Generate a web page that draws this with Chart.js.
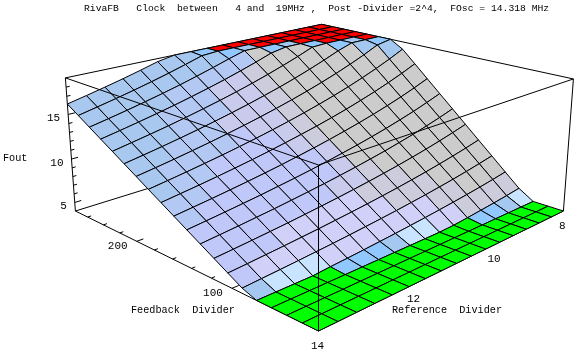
<!DOCTYPE html>
<html>
<head>
<meta charset="utf-8">
<title>RivaFB Clock</title>
<script src="https://cdn.jsdelivr.net/npm/chart.js@4"></script>
<style>
    html, body { margin: 0; padding: 0; background: #fff; }
    canvas { display: block; }
</style>
</head>
<body>
<canvas id="surfaceChart" width="577" height="353"></canvas>
<script>
//////////////////////* Chart Data *////////////////////////////
let titleText = "RivaFB   Clock  between   4 and  19MHz ,  Post -Divider =2^4,  FOsc = 14.318 MHz";

let referenceDividers = [14, 13.625, 13.25, 12.875, 12.5, 12.125, 11.75, 11.375, 11, 10.625, 10.25, 9.875, 9.5, 9.125, 8.75, 8.375, 8];

let feedbackDividers = [24, 37.3, 50.5, 63.8, 77.1, 90.3, 103.6, 116.8, 130.1, 143.4, 156.6, 169.9, 183.2, 196.4, 209.7, 222.9, 236.2, 249.5, 262.7, 276];

// Fout, one row per reference divider
let foutValues = [
    [4, 4, 4, 4, 4, 4.53, 5.36, 6.19, 7.02, 7.85, 8.68, 9.51, 10.34, 11.17, 12, 12.83, 13.66, 14.49, 15.32, 16.15],
    [4, 4, 4, 4, 4, 4.66, 5.51, 6.36, 7.22, 8.07, 8.92, 9.78, 10.63, 11.48, 12.33, 13.19, 14.04, 14.89, 15.75, 16.6],
    [4, 4, 4, 4, 4, 4.79, 5.67, 6.54, 7.42, 8.3, 9.17, 10.05, 10.93, 11.8, 12.68, 13.56, 14.44, 15.31, 16.19, 17.07],
    [4, 4, 4, 4, 4, 4.93, 5.83, 6.73, 7.64, 8.54, 9.44, 10.34, 11.25, 12.15, 13.05, 13.95, 14.86, 15.76, 16.66, 17.56],
    [4, 4, 4, 4, 4.15, 5.08, 6.01, 6.93, 7.86, 8.79, 9.72, 10.65, 11.58, 12.51, 13.44, 14.37, 15.3, 16.23, 17.16, 18.09],
    [4, 4, 4, 4, 4.27, 5.23, 6.19, 7.15, 8.11, 9.07, 10.02, 10.98, 11.94, 12.9, 13.86, 14.82, 15.78, 16.73, 17.69, 18.65],
    [4, 4, 4, 4, 4.41, 5.4, 6.39, 7.38, 8.37, 9.35, 10.34, 11.33, 12.32, 13.31, 14.3, 15.29, 16.28, 17.27, 18.26, 19],
    [4, 4, 4, 4, 4.56, 5.58, 6.6, 7.62, 8.64, 9.66, 10.69, 11.71, 12.73, 13.75, 14.77, 15.79, 16.81, 17.84, 18.86, 19],
    [4, 4, 4, 4, 4.71, 5.77, 6.82, 7.88, 8.94, 9.99, 11.05, 12.11, 13.16, 14.22, 15.28, 16.33, 17.39, 18.44, 19, 19],
    [4, 4, 4, 4, 4.88, 5.97, 7.06, 8.16, 9.25, 10.35, 11.44, 12.53, 13.63, 14.72, 15.81, 16.91, 18, 19, 19, 19],
    [4, 4, 4, 4, 5.06, 6.19, 7.32, 8.46, 9.59, 10.72, 11.86, 12.99, 14.13, 15.26, 16.39, 17.53, 18.66, 19, 19, 19],
    [4, 4, 4, 4.07, 5.25, 6.42, 7.6, 8.78, 9.95, 11.13, 12.31, 13.48, 14.66, 15.84, 17.02, 18.19, 19, 19, 19, 19],
    [4, 4, 4, 4.23, 5.46, 6.68, 7.9, 9.13, 10.35, 11.57, 12.79, 14.02, 15.24, 16.46, 17.69, 18.91, 19, 19, 19, 19],
    [4, 4, 4, 4.41, 5.68, 6.95, 8.23, 9.5, 10.77, 12.05, 13.32, 14.59, 15.87, 17.14, 18.41, 19, 19, 19, 19, 19],
    [4, 4, 4, 4.59, 5.92, 7.25, 8.58, 9.91, 11.24, 12.56, 13.89, 15.22, 16.55, 17.87, 19, 19, 19, 19, 19, 19],
    [4, 4, 4, 4.8, 6.19, 7.58, 8.96, 10.35, 11.74, 13.13, 14.51, 15.9, 17.29, 18.68, 19, 19, 19, 19, 19, 19],
    [4, 4, 4, 5.03, 6.48, 7.93, 9.38, 10.83, 12.29, 13.74, 15.19, 16.65, 18.1, 19, 19, 19, 19, 19, 19, 19],
];

// One letter per surface cell, looked up in shadeColors
let cellShades = [
    "GGGGlppppccaaaaaaaa",
    "GGGGwvppppcccaaaaaa",
    "GGGGwvpppppcccaaaaa",
    "GGGGwvvpppppccccaaa",
    "GGGbvvvpppppcccccaa",
    "GGGbvvvppppppqcccaa",
    "GGGbvvvpppppqqqqcal",
    "GGGlvvvqppqqqqqqclb",
    "GGGwvvsqqqsssssscbR",
    "GGGwvsssggggggggglR",
    "GGGvvssgggggggggbRR",
    "GGGvssgggggggggglRR",
    "GGbssggggggggggbRRR",
    "GGbsggggggggggbRRRR",
    "GGlsgggggggggllRRRR",
    "GGwsgggggggglbRRRRR",
];

let shadeColors = {
    R: "#ff0000",
    G: "#00ff00",
    a: "#a8c8f0",
    b: "#90c8ff",
    c: "#b4c8f4",
    g: "#cccccc",
    l: "#a4c8f0",
    p: "#c0c8fa",
    q: "#c8cbec",
    s: "#ccccdc",
    v: "#d0d0f8",
    w: "#c8e4ff",
};

let foutTicks = [5, 10, 15];
let foutMinorTicks = [5, 6, 7, 8, 9, 10, 11, 12, 13, 14, 15, 16, 17, 18];
let feedbackTicks = [100, 200];
let feedbackMinorTicks = [40, 60, 80, 100, 120, 140, 160, 180, 200, 220, 240, 260];
let referenceTicks = [8, 10, 12, 14];

//////////////////////* Projection *////////////////////////////
// Perspective of the box, fitted to its corners in the picture
function project(reference, feedback, fout) {
    let u = (14 - reference) / 6;
    let v = (feedback - 24) / 252;
    let w = (fout - 4) / 15;
    let depth = 1 + 0.29 * u + 0.28 * v - 0.0506 * w;
    return {
        x: (318.5 + 408.3 * u - 222 * v - 16.116 * w) / depth,
        y: (331 - 58.8 * u - 60.9 * v - 174.35 * w) / depth,
    };
}

function lineDataset(points, width) {
    return {
        data: points,
        showLine: true,
        fill: false,
        borderColor: "#000",
        borderWidth: width || 1,
        pointRadius: 0,
        clip: false,
    };
}

function boxLine(a, b) {
    return lineDataset([project(a[0], a[1], a[2]), project(b[0], b[1], b[2])]);
}

function cellDataset(i, j) {
    let shade = cellShades[i][j];
    return {
        data: [
            project(referenceDividers[i], feedbackDividers[j], foutValues[i][j]),
            project(referenceDividers[i + 1], feedbackDividers[j], foutValues[i + 1][j]),
            project(referenceDividers[i + 1], feedbackDividers[j + 1], foutValues[i + 1][j + 1]),
            project(referenceDividers[i], feedbackDividers[j + 1], foutValues[i][j + 1]),
            project(referenceDividers[i], feedbackDividers[j], foutValues[i][j]),
        ],
        showLine: true,
        fill: "shape",
        backgroundColor: shadeColors[shade],
        borderColor: "#000",
        borderWidth: 1,
        pointRadius: 0,
        clip: false,
    };
}

//////////////////////* Datasets, first one ends up on top *////////////////////////////
function buildDatasets() {
    let sets = [];

    // box edges running in front of the surface
    sets.push(boxLine([14, 276, 19], [14, 24, 19]));
    sets.push(boxLine([8, 24, 19], [14, 24, 19]));
    sets.push(boxLine([14, 24, 4], [14, 24, 19]));

    // near cells first so the far ones are painted under them
    for (let i = 0; i < cellShades.length; i++) {
        for (let j = 0; j < cellShades[i].length; j++) {
            sets.push(cellDataset(i, j));
        }
    }

    // edges and ticks behind or beside the surface
    sets.push(boxLine([14, 24, 4], [14, 276, 4]));
    sets.push(boxLine([14, 24, 4], [8, 24, 4]));
    sets.push(boxLine([14, 276, 4], [14, 276, 19]));
    sets.push(boxLine([8, 24, 4], [8, 24, 19]));
    sets.push(boxLine([14, 276, 19], [8, 276, 19]));
    sets.push(boxLine([8, 24, 19], [8, 276, 19]));
    sets.push(boxLine([14, 276, 4], [8, 276, 4]));

    foutMinorTicks.forEach(function (value) {
        let size = foutTicks.indexOf(value) >= 0 ? 0.13 : 0.07;
        sets.push(boxLine([14, 276, value], [14 - size, 276, value]));
    });
    feedbackMinorTicks.forEach(function (value) {
        let size = feedbackTicks.indexOf(value) >= 0 ? 0.13 : 0.07;
        sets.push(boxLine([14, value, 4], [14 - size, value, 4]));
    });

    return sets;
}

//////////////////////* Text *////////////////////////////
let textPlugin = {
    id: "surfaceText",
    afterDraw: function (chart) {
        let ctx = chart.ctx;
        let xScale = chart.scales.x;
        let yScale = chart.scales.y;
        let put = function (text, point, dx, dy) {
            ctx.fillText(text, xScale.getPixelForValue(point.x) + dx, yScale.getPixelForValue(point.y) + dy);
        };
        ctx.save();
        ctx.fillStyle = "#000";
        ctx.textBaseline = "middle";

        ctx.font = "9.7px 'Liberation Mono'";
        ctx.textAlign = "left";
        ctx.fillText(titleText, 84, 8);

        ctx.font = "10.2px 'Liberation Mono'";
        ctx.fillText("Fout", 3, 158);
        ctx.fillText("Feedback  Divider", 131, 310);
        ctx.fillText("Reference  Divider", 392, 310);

        ctx.font = "11px 'Liberation Mono'";
        ctx.textAlign = "right";
        foutTicks.forEach(function (value) {
            put(String(value), project(14, 276, value), -8, 4);
        });
        ctx.textAlign = "center";
        feedbackTicks.forEach(function (value) {
            put(String(value), project(14, value, 4), -19, 5);
        });
        referenceTicks.forEach(function (value) {
            put(String(value), project(value, 24, 4), -1, 15);
        });
        ctx.restore();
    },
};

//////////////////////* Surface Chart *////////////////////////////
function surfaceChart() {
    let ctx = document.getElementById("surfaceChart");
    let config = {
        type: "scatter",
        data: { datasets: buildDatasets() },
        plugins: [textPlugin],
        options: {
            responsive: false,
            animation: false,
            layout: { padding: 0 },
            plugins: {
                legend: { display: false },
                title: { display: false },
                tooltip: { enabled: false },
            },
            scales: {
                x: { type: "linear", min: 0, max: 577, display: false },
                y: { type: "linear", min: 0, max: 353, reverse: true, display: false },
            },
        },
    };
    return new Chart(ctx, config);
}

surfaceChart();
</script>
</body>
</html>
